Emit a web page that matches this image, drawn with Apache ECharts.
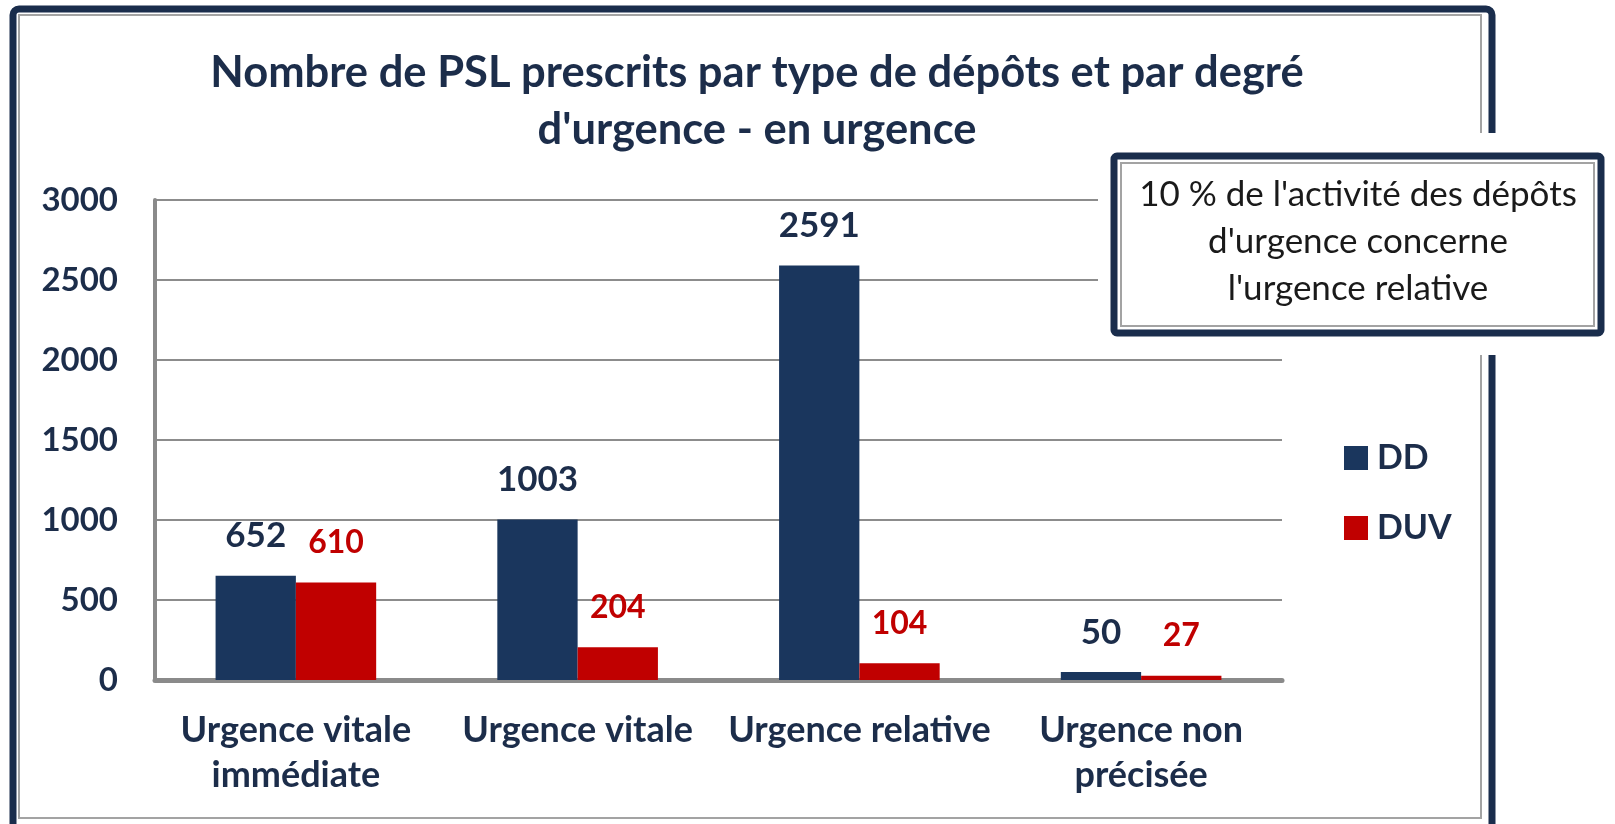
<!DOCTYPE html>
<html>
<head>
<meta charset="utf-8">
<script src="https://cdn.jsdelivr.net/npm/echarts@6/dist/echarts.min.js"></script>
<style>
html,body{margin:0;padding:0;background:#fff;}
#chart{width:1615px;height:824px;}
</style>
</head>
<body>
<div id="chart"></div>
<script>
const titleLines = ["Nombre de PSL prescrits par type de dépôts et par degré", "d'urgence - en urgence"];
const categories = ["Urgence vitale\nimmédiate", "Urgence vitale", "Urgence relative", "Urgence non\nprécisée"];
const seriesNames = ["DD", "DUV"];
const ddValues = [652, 1003, 2591, 50];
const duvValues = [610, 204, 104, 27];
const yTicks = [0, 500, 1000, 1500, 2000, 2500, 3000];
const noteLines = ["10 % de l'activité des dépôts", "d'urgence concerne", "l'urgence relative"];

const NAVY = '#1a365d';
const RED = '#c00000';
const TXT = '#1c2d4a';
const FONT = 'Lato, "Open Sans", sans-serif';

const chart = echarts.init(document.getElementById('chart'));
chart.setOption({
  backgroundColor: '#ffffff',
  animation: false,
  title: {
    text: titleLines.join('\n'),
    left: 752, top: 39, textAlign: 'center',
    textStyle: { fontFamily: FONT, fontWeight: 'bold', fontSize: 43.5, lineHeight: 57, color: TXT }
  },
  legend: {
    orient: 'vertical', left: 1339, top: 436,
    icon: 'rect', itemWidth: 24, itemHeight: 24, itemGap: 36,
    data: seriesNames,
    textStyle: { fontFamily: FONT, fontWeight: 'bold', fontSize: 34, color: TXT, padding: [0,0,0,4] }
  },
  grid: { left: 155, right: 333, top: 200, bottom: 144, containLabel: false },
  xAxis: {
    type: 'category', data: categories,
    axisLine: { show: true, lineStyle: { color: '#8a8a8a', width: 5 } },
    axisTick: { show: false },
    axisLabel: { margin: 28, fontFamily: FONT, fontWeight: 'bold', fontSize: 36, lineHeight: 45, color: TXT, interval: 0 }
  },
  yAxis: {
    type: 'value', min: yTicks[0], max: yTicks[yTicks.length-1], interval: yTicks[1]-yTicks[0],
    axisLine: { show: true, lineStyle: { color: '#8a8a8a', width: 4 } },
    axisTick: { show: false },
    splitLine: { show: true, lineStyle: { color: '#8c8c8c', width: 2 } },
    axisLabel: { margin: 37, fontFamily: FONT, fontWeight: 'bold', fontSize: 33, color: TXT,
      formatter: function (v) { return String(v); } }
  },
  series: [
    { name: seriesNames[0], type: 'bar', data: ddValues, barGap: '0%', barCategoryGap: '43%',
      itemStyle: { color: NAVY },
      label: { show: true, position: 'top', distance: 22, fontFamily: FONT, fontWeight: 'bold', fontSize: 35, color: TXT } },
    { name: seriesNames[1], type: 'bar', data: duvValues, barGap: '0%', barCategoryGap: '43%',
      itemStyle: { color: RED },
      label: { show: true, position: 'top', distance: 24, fontFamily: FONT, fontWeight: 'bold', fontSize: 32, color: RED } }
  ],
  graphic: [
    { type: 'rect', z: 50, silent: true, shape: { x: 13, y: 9, width: 1479, height: 830, r: 6 },
      style: { fill: null, stroke: '#1a2d4c', lineWidth: 7 } },
    { type: 'rect', z: 50, silent: true, shape: { x: 19, y: 15, width: 1462, height: 803 },
      style: { fill: null, stroke: '#a3a3a3', lineWidth: 2 } },
    { type: 'rect', z: 60, silent: true, shape: { x: 1098, y: 133, width: 517, height: 222 },
      style: { fill: '#ffffff' } },
    { type: 'rect', z: 61, silent: true, shape: { x: 1114, y: 156, width: 487, height: 177, r: 3 },
      style: { fill: '#ffffff', stroke: '#1a2d4c', lineWidth: 7 } },
    { type: 'rect', z: 62, silent: true, shape: { x: 1121, y: 163, width: 473, height: 163 },
      style: { fill: null, stroke: '#a3a3a3', lineWidth: 2 } },
    { type: 'text', z: 63, silent: true, x: 1358, y: 171,
      style: { text: noteLines.join('\n'), textAlign: 'center', textVerticalAlign: 'top',
        font: 'normal 35px ' + FONT, lineHeight: 47, fill: '#1a1a1a' } }
  ]
});
</script>
</body>
</html>
